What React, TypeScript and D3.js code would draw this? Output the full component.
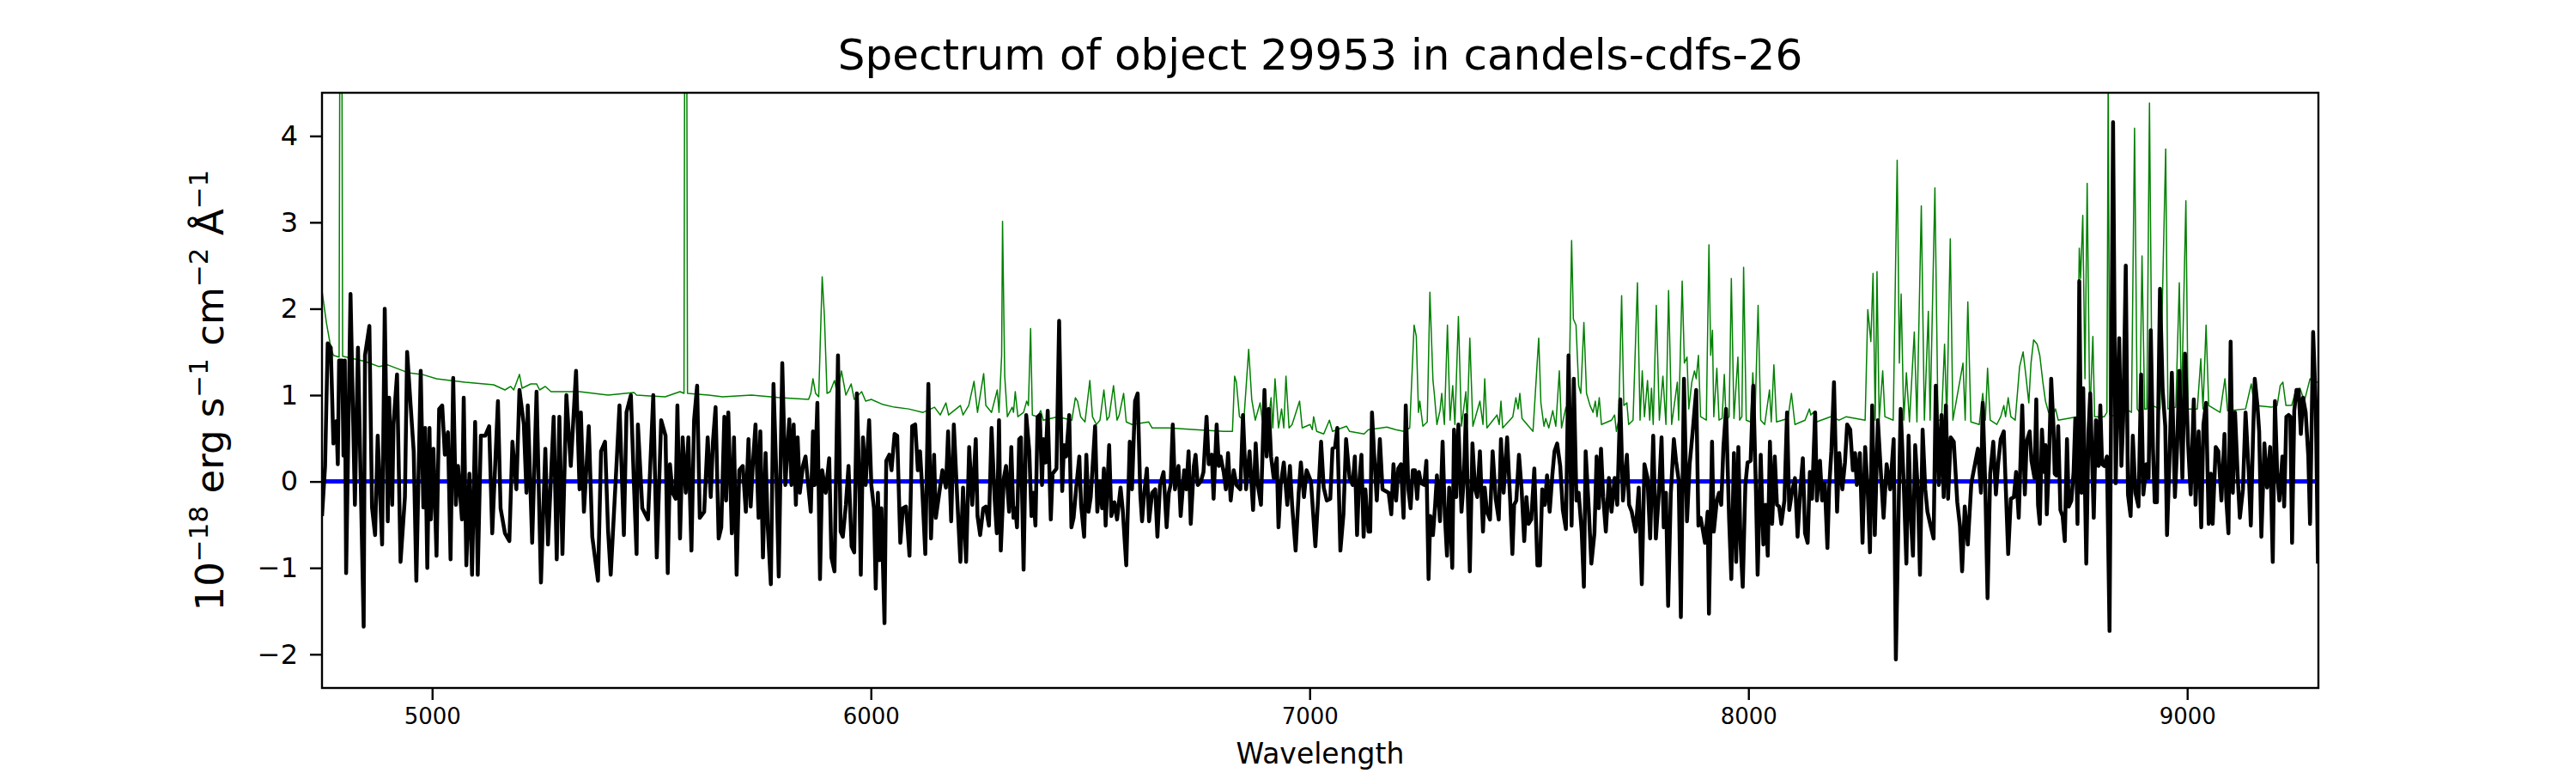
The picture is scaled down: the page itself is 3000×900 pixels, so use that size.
import React from 'react';
import { useRef, useEffect } from 'react';
import * as d3 from 'd3';

// [wavelength (Å), flux (1e-18 erg/s/cm2/Å)]
const fluxSpec: [number, number][] = [
  [4749,-0.4],[4756,0.18],[4762,1.6],[4769,1.55],[4775,0.44],[4782,0.7],[4785,0.2],[4788,1.4],[4795,1.4],[4798,0.3],
  [4801,1.4],[4804,-1.06],[4814,2.17],[4824,-0.27],[4831,1.55],[4844,-1.68],[4847,1.46],[4857,1.8],[4863,-0.3],[4870,-0.62],
  [4876,0.53],[4886,-0.73],[4892,2.0],[4899,-0.46],[4902,0.97],[4909,-0.27],[4912,0.66],[4920,1.24],[4928,-0.93],[4938,-0.18],
  [4943,1.5],[4951,0.88],[4958,0.35],[4964,-1.15],[4974,1.28],[4980,-0.3],[4984,0.62],[4989,-1.0],[4994,0.62],[4997,-0.44],
  [5003,0.38],[5010,-0.86],[5016,0.84],[5023,0.88],[5029,0.31],[5036,0.57],[5042,-0.9],[5048,1.2],[5054,-0.27],[5059,0.18],
  [5068,-0.44],[5072,0.97],[5078,-0.97],[5085,0.09],[5091,-1.08],[5098,0.69],[5104,-1.08],[5111,0.53],[5121,0.53],[5130,0.64],
  [5137,-0.6],[5150,0.93],[5156,-0.31],[5166,-0.6],[5176,-0.69],[5183,0.46],[5192,-0.09],[5199,1.06],[5209,0.66],[5215,-0.13],
  [5218,0.88],[5228,-0.71],[5238,1.04],[5248,-1.17],[5258,0.38],[5264,-0.73],[5277,0.75],[5284,-0.9],[5290,0.75],[5297,-0.84],
  [5306,1.0],[5316,0.18],[5328,1.28],[5336,-0.09],[5339,0.8],[5346,-0.35],[5357,0.64],[5365,-0.64],[5378,-1.15],[5385,0.35],
  [5394,0.46],[5401,-0.57],[5407,-1.08],[5421,0.27],[5427,0.88],[5437,-0.62],[5443,0.8],[5453,1.0],[5460,-0.04],[5466,-0.84],
  [5469,0.66],[5479,-0.31],[5492,-0.44],[5504,1.0],[5512,-0.88],[5522,0.71],
  [5532,0.53],[5537,-1.06],[5542,0.2],[5548,-0.13],[5555,-0.2],[5559,0.88],[5565,-0.66],[5571,0.51],[5578,-0.13],[5584,0.51],
  [5591,-0.8],[5597,0.71],[5604,1.11],[5610,-0.42],[5620,-0.35],[5628,0.51],[5635,-0.18],[5640,0.46],[5646,0.86],[5653,-0.66],
  [5659,-0.53],[5666,0.75],[5670,-0.22],[5675,0.8],[5683,-0.6],[5688,0.51],[5694,-1.08],[5700,0.13],[5708,0.18],[5715,-0.35],
  [5721,0.49],[5726,-0.29],[5731,0.2],[5737,0.66],[5744,-0.42],[5748,0.58],[5754,-0.88],[5760,0.33],[5765,-0.53],[5772,-1.19],
  [5778,1.13],[5785,0],[5790,-1.1],[5798,1.37],[5805,-0.04],[5809,0.31],[5814,0.72],[5819,-0.04],[5824,0.66],[5829,-0.27],
  [5833,0.51],[5838,-0.13],[5845,0.18],[5851,0.29],[5858,-0.09],[5863,-0.35],[5868,0.58],[5872,-0.04],[5878,0.91],[5884,-1.13],
  [5889,0.13],[5897,-0.13],[5905,0.27],[5910,-0.88],[5917,-1.04],[5925,1.46],[5931,-0.58],[5936,-0.64],[5943,-0.27],[5949,0.18],
  [5956,-0.75],[5962,-0.82],[5968,1.02],[5974,-0.13],[5977,-1.08],[5982,0.51],[5988,-0.04],[5996,0.71],[6001,-0.04],[6007,-0.31],
  [6011,-1.24],[6016,-0.13],[6020,-0.91],[6024,-0.31],[6031,-1.64],[6035,0.24],[6042,0.31],[6047,0.13],[6054,0.55],[6060,0.53],
  [6067,-0.71],[6073,-0.31],[6080,-0.29],[6088,-0.86],[6094,0.64],[6101,0.66],[6107,0.13],[6112,0.35],[6117,-0.09],[6124,-0.84],
  [6131,1.13],[6137,-0.66],[6144,0.31],[6148,-0.42],[6157,-0.09],[6163,0.13],[6171,-0.07],[6176,0.58],[6183,-0.46],[6189,0.66],
  [6197,-0.22],[6204,-0.93],[6210,-0.07],[6217,-0.93],[6224,0.4],[6231,-0.27],[6239,0.49],[6243,-0.4],[6249,-0.62],[6256,-0.31],
  [6262,-0.29],[6269,-0.51],[6275,0.62],[6282,-0.2],[6287,-0.6],[6292,0.71],[6296,-0.8],[6303,0.04],[6308,0.18],
  [6315,-0.35],[6320,0.4],[6325,-0.42],[6329,-0.31],[6333,-0.53],[6338,0.49],[6342,0.51],[6348,-1.02],[6354,0.77],[6361,0.35],
  [6366,-0.4],[6370,-0.13],[6375,-0.51],[6380,0.75],[6385,0.77],[6390,-0.04],[6393,0.49],[6398,0.22],[6403,0.82],[6410,-0.44],
  [6414,0.09],[6423,0.15],[6429,1.86],[6436,-0.11],[6440,0.42],[6445,0.29],[6452,0.77],[6457,-0.53],[6462,-0.42],[6468,-0.07],
  [6475,0.29],[6479,-0.27],[6486,-0.64],[6491,0.31],[6496,-0.35],[6501,-0.18],[6511,0.64],[6516,-0.35],[6522,0],[6527,-0.31],
  [6531,0.15],[6535,-0.51],[6543,0.42],[6548,-0.4],[6555,-0.24],[6561,-0.44],[6569,-0.07],[6574,-0.33],[6582,-0.97],[6590,0.46],
  [6595,-0.09],[6602,0.93],[6608,1.02],[6614,-0.15],[6618,-0.46],[6623,-0.13],[6629,0.15],[6634,-0.46],[6641,-0.13],[6648,-0.09],
  [6653,-0.64],[6659,-0.04],[6667,0.11],[6674,-0.53],[6679,-0.13],[6683,-0.04],[6688,0.66],[6693,-0.09],[6701,0.18],[6706,-0.4],
  [6714,0.13],[6719,-0.09],[6724,0.35],[6729,-0.49],[6736,0.18],[6740,0.31],[6745,-0.04],[6752,0],[6758,0.11],[6765,0.75],
  [6770,0.2],[6777,0.31],[6781,-0.2],[6788,0.66],[6793,0.18],[6797,0.29],[6804,0.11],[6809,-0.09],[6814,0.33],[6820,-0.22],
  [6827,0.13],[6833,-0.04],[6842,-0.09],[6848,0.77],[6855,-0.09],[6863,0.35],[6871,-0.33],[6877,0.44],[6882,-0.04],[6889,-0.27],
  [6897,1.06],[6902,0.29],[6907,0.84],[6912,0.29],[6918,0.04],[6925,0.27],[6929,-0.53],[6934,-0.04],[6941,0.22],[6949,-0.27],
  [6955,0.18],[6960,-0.27],[6968,-0.8],[6975,-0.13],[6980,0.22],[6987,-0.18],[6993,0.13],[7003,0],[7013,-0.75],[7019,-0.22],
  [7026,0.46],[7032,-0.07],[7039,-0.22],[7047,-0.2],[7052,0.38],[7058,0.4],[7063,0.62],[7070,-0.8],[7077,-0.38],[7083,0.49],
  [7091,0.04],
  [7098,-0.04],[7103,0.29],[7108,-0.62],[7112,-0.07],[7118,0.31],[7123,-0.64],[7127,-0.09],[7134,-0.58],[7138,-0.58],[7142,0.8],
  [7147,0.31],[7153,-0.22],[7160,0.49],[7166,-0.09],[7173,-0.11],[7180,-0.13],[7186,-0.38],[7191,0.2],[7197,-0.22],[7202,0.15],
  [7208,0.2],[7214,-0.42],[7219,0.88],[7225,-0.09],[7230,-0.31],[7235,0.13],[7240,0.13],[7245,-0.2],[7249,0.11],[7254,-0.02],
  [7261,-0.04],[7266,0.24],[7271,-1.13],[7275,-0.4],[7281,-0.62],[7286,-0.27],[7290,0.07],[7297,-0.46],[7303,0.46],[7308,-0.38],
  [7313,-0.86],[7318,-0.07],[7325,-1.0],[7329,0.6],[7334,-0.18],[7339,0.66],[7346,-0.35],[7351,0],[7356,0.77],[7360,-0.09],
  [7365,-1.04],[7371,0.44],[7377,-0.09],[7382,-0.18],[7388,0.35],[7395,-0.58],[7399,-0.07],[7404,-0.35],[7411,-0.44],[7417,0.35],
  [7424,-0.2],[7431,-0.44],[7436,0.49],[7442,-0.13],[7450,0.51],[7457,-0.22],[7462,-0.84],[7466,-0.27],[7471,-0.22],[7477,0.31],
  [7483,-0.09],[7489,-0.69],[7494,-0.18],[7499,-0.49],[7505,-0.44],[7512,0.15],[7519,-0.97],[7525,-0.97],[7530,-0.09],[7536,-0.27],
  [7541,0.07],[7547,-0.35],[7553,0.07],[7558,0.35],[7564,0.44],[7571,0.18],[7577,-0.33],[7584,-0.55],[7590,1.46],[7597,-0.51],
  [7602,1.19],[7608,-0.22],[7613,-0.13],[7620,-0.58],[7625,-1.22],[7629,0.35],[7636,-0.31],[7642,-0.95],[7649,-0.6],[7654,0.29],
  [7659,-0.31],[7664,0.38],[7669,-0.18],[7675,-0.58],[7682,0.04],[7688,-0.35],[7695,0.04],[7701,-0.27],[7708,0.95],[7714,-0.22],
  [7723,0.31],[7728,-0.27],[7734,-0.35],[7743,-0.58],[7750,-0.07],[7757,-1.19],[7763,0.2],[7770,0.04],[7776,-0.66],[7783,0.53],
  [7789,-0.66],[7796,-0.13],[7802,0.51],[7807,-0.53],[7812,-0.13],[7817,-1.44],[7823,-0.15],[7830,0.49],[7835,0.24],[7841,0.02],
  [7846,-1.57],[7853,1.19],[7860,-0.46],[7866,0.2],[7873,0.58],
  [7881,1.06],[7886,-0.51],[7891,-0.42],[7895,-0.53],[7901,-0.71],[7907,-0.35],[7910,-1.53],[7917,0.46],[7921,-0.58],[7928,-0.22],
  [7933,-0.13],[7938,-0.27],[7943,0.4],[7949,0.84],[7956,-0.44],[7961,-1.13],[7967,0.33],[7972,-0.93],[7977,0.4],[7982,-0.71],
  [7987,-1.22],[7993,-0.04],[7998,0.22],[8005,0.24],[8011,1.11],[8017,-0.09],[8021,-1.08],[8028,0.31],[8034,-0.73],[8039,-0.27],
  [8044,-0.86],[8049,0.46],[8054,-0.49],[8060,0.29],[8065,-0.27],[8070,-0.29],[8075,-0.49],[8082,-0.22],[8088,0.8],[8093,-0.33],
  [8099,-0.13],[8106,0.04],[8112,-0.64],[8119,-0.04],[8124,0.27],[8129,-0.6],[8135,-0.71],[8140,0.11],[8145,-0.2],[8152,0.8],
  [8156,-0.22],[8163,0.24],[8168,-0.22],[8174,-0.02],[8180,-0.77],[8184,-0.07],[8189,0.35],[8195,1.15],[8202,-0.35],[8207,0.33],
  [8214,-0.09],[8220,0.22],[8225,0.66],[8232,0.6],[8238,0.13],[8243,0.33],[8247,-0.04],[8254,0.33],[8260,-0.71],[8266,0.4],
  [8272,-0.13],[8277,-0.82],[8282,0.88],[8288,-0.62],[8295,0.71],[8302,0.09],[8308,-0.42],[8315,0.2],[8323,-0.09],[8331,0.49],
  [8336,-2.06],[8343,-0.13],[8347,0.84],[8354,-0.04],[8360,-0.95],[8365,0.53],[8370,-0.4],[8375,-0.86],[8380,0.42],[8386,-0.09],
  [8391,-1.08],[8397,0.6],[8403,-0.09],[8408,-0.35],[8416,-0.53],[8422,-0.66],[8427,1.11],[8434,-0.04],[8440,0.77],[8445,-0.18],
  [8450,0.88],[8455,-0.2],[8461,0.51],[8468,0.46],[8476,-0.24],[8482,-0.51],[8487,-1.04],[8493,-0.29],[8500,-0.73],[8508,-0.02],
  [8517,0.22],[8523,0.38],[8530,-0.13],[8534,0.91],[8540,-0.09],[8545,-1.35],[8551,0.09],[8558,0.46],[8564,-0.15],[8569,0.2],
  [8575,0.49],[8582,0.58],[8586,0],[8592,-0.84],[8598,-0.2],[8605,-0.18],[8610,0.11],[8616,-0.42],[8624,0.88],[8630,-0.15],
  [8634,0.46],[8641,0.58],[8645,0.24],[8652,0.04],[8656,0.95],[8660,-0.27],
  [8664,-0.49],[8669,0.6],[8674,0.11],[8677,0.42],[8680,-0.38],[8685,0.24],[8690,1.19],[8695,0.66],[8698,0.09],[8702,0.07],
  [8706,0.64],[8711,-0.33],[8716,-0.4],[8721,-0.69],[8726,0.49],[8730,-0.29],[8736,-0.22],[8741,0.11],[8745,0.73],[8750,-0.49],
  [8754,2.32],[8759,-0.13],[8763,1.08],[8770,-0.95],[8775,0.58],[8779,1.02],[8787,-0.42],[8792,0.71],[8798,0.18],[8802,0.88],
  [8806,0.2],[8811,0.18],[8817,0.29],[8823,-1.73],[8831,4.16],[8837,-0.02],[8840,0.71],[8845,1.66],[8850,0.18],[8854,0.71],
  [8860,2.5],[8865,-0.15],[8871,-0.4],[8876,0.53],[8882,-0.13],[8889,-0.29],[8895,1.24],[8900,-0.15],[8907,0.2],[8912,0.04],
  [8917,1.75],[8922,0.38],[8926,-0.24],[8931,-0.24],[8938,2.23],[8944,1.06],[8950,0.64],[8954,-0.62],[8959,0.15],[8965,1.26],
  [8972,-0.18],[8977,0.4],[8982,1.28],[8989,0.04],[8995,1.48],[9002,0.44],[9008,-0.15],[9015,0.95],[9019,-0.27],[9026,0.58],
  [9032,-0.53],[9037,0.66],[9043,0.91],[9049,-0.49],[9054,0.09],[9058,-0.49],[9065,0.4],[9071,0.35],[9078,-0.22],[9085,0.55],
  [9089,-0.2],[9094,-0.6],[9099,1.62],[9104,-0.13],[9109,0.8],[9115,0.07],[9120,-0.42],[9127,-0.09],[9133,0.8],[9140,0.13],
  [9145,-0.51],[9150,0.51],[9154,1.19],[9160,0.88],[9164,0.58],[9169,-0.64],[9176,0.44],[9182,-0.07],[9189,0.4],[9195,-0.93],
  [9200,0.93],[9205,0.11],[9210,-0.22],[9217,0.29],[9221,-0.29],[9226,0.75],[9231,0.77],[9235,0.75],[9239,-0.71],[9244,0.82],
  [9249,1.06],[9254,1.06],[9259,0.55],[9264,0.97],[9270,0.8],[9276,0.29],[9280,-0.49],[9287,1.73],[9293,0.88],[9298,-0.95],
];

// [wavelength (Å), flux uncertainty] (green curve)
const errorSpec: [number, number][] = [
  [4749,2.21],[4759,1.84],[4769,1.55],[4775,1.46],[4788,1.44],[4790,6.0],[4794,6.0],[4796,1.45],[4847,1.39],[4879,1.33],
  [4899,1.35],[4945,1.26],[4977,1.24],[5010,1.19],[5042,1.17],[5075,1.15],[5140,1.12],[5166,1.06],[5179,1.1],[5186,1.06],
  [5199,1.24],[5205,1.08],[5225,1.13],[5238,1.13],[5245,1.06],[5258,1.1],[5271,1.04],[5336,1.04],[5401,1.0],[5460,1.03],
  [5466,1.0],[5531,0.98],[5565,1.04],[5574,1.02],[5576,6.0],[5580,6.0],[5582,1.02],[5630,1.0],[5662,0.98],[5728,1.0],
  [5793,0.97],[5858,0.95],[5863,1.02],[5868,1.19],[5874,1.02],[5881,0.98],[5889,2.37],[5894,1.92],[5900,1.02],[5907,1.04],
  [5917,1.17],[5923,1.02],[5933,1.28],[5943,1.0],[5955,1.13],[5962,0.95],[5979,1.04],[5988,0.93],[6001,0.95],[6028,0.89],
  [6054,0.86],[6086,0.84],[6119,0.8],[6145,0.86],[6158,0.77],[6171,0.91],[6177,0.77],[6204,0.88],[6210,0.77],[6223,0.88],
  [6235,1.16],[6243,0.8],[6257,1.25],[6262,0.88],[6275,0.8],[6288,1.06],[6292,0.8],[6298,1.46],[6300,3.01],[6305,1.22],
  [6311,0.75],[6322,0.86],[6325,0.8],[6329,1.04],[6335,0.75],[6348,0.8],[6355,0.93],[6359,0.88],[6364,1.77],[6368,0.77],
  [6380,0.75],[6387,0.82],[6393,0.71],[6426,0.75],[6458,0.71],[6466,0.97],[6471,0.93],[6478,0.75],[6488,0.69],[6499,1.17],
  [6505,0.75],[6514,0.66],[6522,0.71],[6531,1.06],[6538,0.71],[6543,0.75],[6553,1.11],[6561,0.71],[6566,0.77],[6576,1.02],
  [6582,0.69],[6595,0.66],[6633,0.69],[6641,0.62],[6680,0.62],[6739,0.6],[6804,0.58],[6824,0.58],[6829,1.22],[6833,1.15],
  [6840,0.75],[6850,0.71],[6861,1.53],[6868,0.95],[6876,0.71],[6887,0.91],[6892,0.71],[6899,0.84],[6905,0.66],[6912,0.97],
  [6916,0.62],[6921,1.19],[6929,0.62],[6936,0.84],[6941,0.62],[6946,1.22],[6953,0.62],[6960,0.66],[6977,0.93],[6983,0.62],
  [7001,0.66],[7006,0.6],[7009,0.75],[7016,0.58],[7032,0.55],[7045,0.71],[7052,0.58],[7084,0.64],[7091,0.58],[7124,0.55],
  [7134,0.6],[7163,0.62],[7176,0.63],[7196,0.6],[7215,0.58],[7228,0.62],[7238,1.81],[7243,1.68],[7248,0.8],[7251,0.93],
  [7258,0.64],[7268,0.69],[7274,2.19],[7281,1.17],[7284,1.02],[7290,0.66],[7297,0.82],[7301,1.02],[7307,0.66],[7314,1.81],
  [7320,0.71],[7326,1.11],[7331,0.66],[7339,1.91],[7346,0.64],[7356,1.04],[7359,0.66],[7365,1.66],[7372,0.64],[7388,0.93],
  [7395,0.66],[7399,1.19],[7404,0.62],[7427,0.77],[7432,0.66],[7436,0.93],[7440,0.62],[7463,0.75],[7470,0.97],[7475,0.84],
  [7479,1.02],[7484,0.73],[7509,0.58],[7522,1.66],[7527,0.91],[7534,0.64],[7538,0.73],[7545,0.62],[7554,0.82],[7561,0.64],
  [7569,1.28],[7574,0.62],[7584,0.86],[7590,0.66],[7597,2.79],[7601,1.88],[7607,1.81],[7613,1.11],[7618,1.02],[7625,1.84],
  [7631,1.02],[7639,0.88],[7646,0.8],[7651,0.93],[7655,0.75],[7660,0.97],[7665,0.66],[7688,0.71],[7695,0.77],[7699,0.58],
  [7704,0.71],[7711,2.15],[7716,0.88],[7723,0.91],[7727,0.66],[7737,0.71],[7747,2.3],[7753,0.71],[7758,1.28],[7763,0.75],
  [7770,1.17],[7775,0.71],[7779,1.08],[7783,0.66],[7790,2.04],[7797,0.71],[7805,1.22],[7812,0.66],[7818,2.21],[7825,0.66],
  [7838,1.15],[7841,0.71],[7849,2.32],[7854,1.37],[7860,1.44],[7864,0.84],[7871,1.15],[7877,1.28],[7881,1.19],[7886,1.46],
  [7891,0.75],[7904,0.71],[7910,2.74],[7914,1.46],[7918,1.75],[7921,0.75],[7928,1.31],[7933,0.71],[7940,0.73],[7945,1.24],
  [7949,0.71],[7956,0.75],[7961,2.35],[7967,0.73],[7976,1.44],[7980,0.71],[7985,0.75],[7989,2.48],[7995,0.71],[8005,0.69],
  [8010,1.26],[8015,0.75],[8022,2.04],[8028,0.71],[8037,0.66],[8048,1.06],[8052,0.69],[8058,1.35],[8064,0.69],[8090,0.73],
  [8098,1.02],[8106,0.66],[8129,0.71],[8139,0.84],[8142,0.77],[8148,0.8],[8155,0.69],[8187,0.75],[8207,0.71],[8223,0.75],
  [8266,0.71],[8272,1.99],[8279,1.62],[8284,2.41],[8289,0.71],[8293,2.43],[8298,0.71],[8306,1.28],[8311,0.75],[8330,0.71],
  [8339,3.72],[8344,1.37],[8348,2.17],[8354,0.71],[8360,1.26],[8367,0.69],[8378,1.73],[8384,0.69],[8394,3.19],[8401,0.71],
  [8410,1.97],[8414,0.71],[8425,3.4],[8432,0.71],[8440,0.71],[8447,1.59],[8452,0.71],[8460,2.81],[8466,0.71],[8489,1.37],
  [8494,0.71],[8500,2.08],[8507,0.69],[8526,0.66],[8534,1.02],[8540,0.71],[8545,1.31],[8551,0.71],[8566,0.66],[8575,0.75],
  [8582,0.88],[8586,0.75],[8592,0.97],[8598,0.75],[8608,0.71],[8618,1.33],[8626,1.5],[8632,1.24],[8639,0.91],[8644,1.37],
  [8650,1.64],[8658,1.59],[8664,1.46],[8671,1.15],[8677,0.93],[8684,0.8],[8693,0.75],[8700,0.84],[8706,0.71],[8749,0.75],
  [8754,2.7],[8757,2.35],[8762,3.08],[8767,1.19],[8772,3.45],[8778,0.75],[8785,1.68],[8789,0.75],[8811,0.75],[8817,0.8],
  [8820,4.8],[8823,0.78],[8826,0.75],[8860,0.84],[8873,0.8],[8880,4.09],[8886,0.84],[8892,0.8],[8897,2.61],[8903,0.84],
  [8908,0.84],[8914,4.38],[8920,0.88],[8938,0.84],[8951,3.85],[8956,0.84],[8974,0.86],[8982,2.3],[8987,0.88],[8997,3.25],
  [9002,0.84],[9023,0.84],[9031,1.42],[9036,0.84],[9043,1.81],[9049,0.88],[9075,0.8],[9086,1.19],[9092,0.82],[9133,0.84],
  [9146,1.13],[9153,0.88],[9192,0.86],[9205,0.88],[9212,1.11],[9218,1.15],[9225,0.88],[9238,0.88],[9248,1.06],[9257,1.08],
  [9267,0.93],[9280,1.19],[9290,1.15],[9300,1.15],
];

// model / continuum (blue)
const modelSpec: [number, number][] = [[4749, 0], [9299, 0]];

const xDomain = [4749, 9299];
const yDomain = [-2.39, 4.5];
const xTicks = [5000, 6000, 7000, 8000, 9000];
const yTicks = [-2, -1, 0, 1, 2, 3, 4];

const chartTitle = 'Spectrum of object 29953 in candels-cdfs-26';
const xLabel = 'Wavelength';

export default function App() {
  const svgRef = useRef<SVGSVGElement>(null);

  useEffect(() => {
    const w = 3000;
    const h = 900;
    const margin = { left: 375, right: 300, top: 108, bottom: 99 };
    const font = 'DejaVu Sans, sans-serif';

    const svg = d3.select(svgRef.current).attr('width', w).attr('height', h);
    svg.selectAll('*').remove();

    const x = d3.scaleLinear().domain(xDomain).range([margin.left, w - margin.right]);
    const y = d3.scaleLinear().domain(yDomain).range([h - margin.bottom, margin.top]);

    svg.append('rect').attr('width', w).attr('height', h).attr('fill', '#ffffff');

    svg
      .append('defs')
      .append('clipPath')
      .attr('id', 'plot-clip')
      .append('rect')
      .attr('x', margin.left)
      .attr('y', margin.top)
      .attr('width', w - margin.left - margin.right)
      .attr('height', h - margin.top - margin.bottom);

    const line = d3
      .line<[number, number]>()
      .x((d) => x(d[0]))
      .y((d) => y(d[1]));

    const plot = svg.append('g').attr('clip-path', 'url(#plot-clip)');

    plot
      .append('path')
      .datum(errorSpec)
      .attr('d', line)
      .attr('fill', 'none')
      .attr('stroke', '#008000')
      .attr('stroke-width', 1.5)
      .attr('stroke-linejoin', 'round');

    plot
      .append('path')
      .datum(modelSpec)
      .attr('d', line)
      .attr('fill', 'none')
      .attr('stroke', '#0000ff')
      .attr('stroke-width', 5);

    plot
      .append('path')
      .datum(fluxSpec)
      .attr('d', line)
      .attr('fill', 'none')
      .attr('stroke', '#000000')
      .attr('stroke-width', 4.5)
      .attr('stroke-linejoin', 'round');

    // axes
    const fmt = (d: number) => (d < 0 ? '\u2212' + Math.abs(d) : String(d));

    const xAxis = svg
      .append('g')
      .attr('transform', `translate(0,${h - margin.bottom})`)
      .call(d3.axisBottom(x).tickValues(xTicks).tickSize(14).tickPadding(10).tickFormat((d) => String(d)));
    xAxis.select('.domain').remove();
    xAxis.selectAll('line').attr('stroke', '#000').attr('stroke-width', 2.4);
    xAxis
      .selectAll('text')
      .attr('fill', '#000')
      .style('font-family', font)
      .style('font-size', '26px');

    const yAxis = svg
      .append('g')
      .attr('transform', `translate(${margin.left},0)`)
      .call(d3.axisLeft(y).tickValues(yTicks).tickSize(14).tickPadding(14).tickFormat((d) => fmt(+d)));
    yAxis.select('.domain').remove();
    yAxis.selectAll('line').attr('stroke', '#000').attr('stroke-width', 2.4);
    yAxis
      .selectAll('text')
      .attr('fill', '#000')
      .style('font-family', font)
      .style('font-size', '32px');

    // frame
    svg
      .append('rect')
      .attr('x', margin.left)
      .attr('y', margin.top)
      .attr('width', w - margin.left - margin.right)
      .attr('height', h - margin.top - margin.bottom)
      .attr('fill', 'none')
      .attr('stroke', '#000')
      .attr('stroke-width', 2.4);

    // title
    svg
      .append('text')
      .attr('x', (margin.left + w - margin.right) / 2)
      .attr('y', 81)
      .attr('text-anchor', 'middle')
      .style('font-family', font)
      .style('font-size', '50px')
      .attr('fill', '#000')
      .text(chartTitle);

    // x label
    svg
      .append('text')
      .attr('x', (margin.left + w - margin.right) / 2)
      .attr('y', 889)
      .attr('text-anchor', 'middle')
      .style('font-family', font)
      .style('font-size', '33px')
      .attr('fill', '#000')
      .text(xLabel);

    // y label with superscripts
    const yl = svg
      .append('text')
      .attr('transform', `translate(260,${(margin.top + h - margin.bottom) / 2}) rotate(-90)`)
      .attr('text-anchor', 'middle')
      .style('font-family', font)
      .style('font-size', '45px')
      .attr('fill', '#000');
    const parts: [string, boolean][] = [
      ['10', false],
      ['\u221218', true],
      [' erg s', false],
      ['\u22121', true],
      [' cm', false],
      ['\u22122', true],
      [' \u00c5', false],
      ['\u22121', true],
    ];
    let raised = false;
    parts.forEach(([t, sup]) => {
      const span = yl.append('tspan').text(t);
      if (sup && !raised) span.attr('dy', -18).style('font-size', '31px');
      else if (sup) span.style('font-size', '31px');
      if (!sup && raised) span.attr('dy', 18);
      raised = sup;
    });
  }, []);

  return (
    <div style={{ position: 'absolute', left: 0, top: 0 }}>
      <svg ref={svgRef}></svg>
    </div>
  );
}
